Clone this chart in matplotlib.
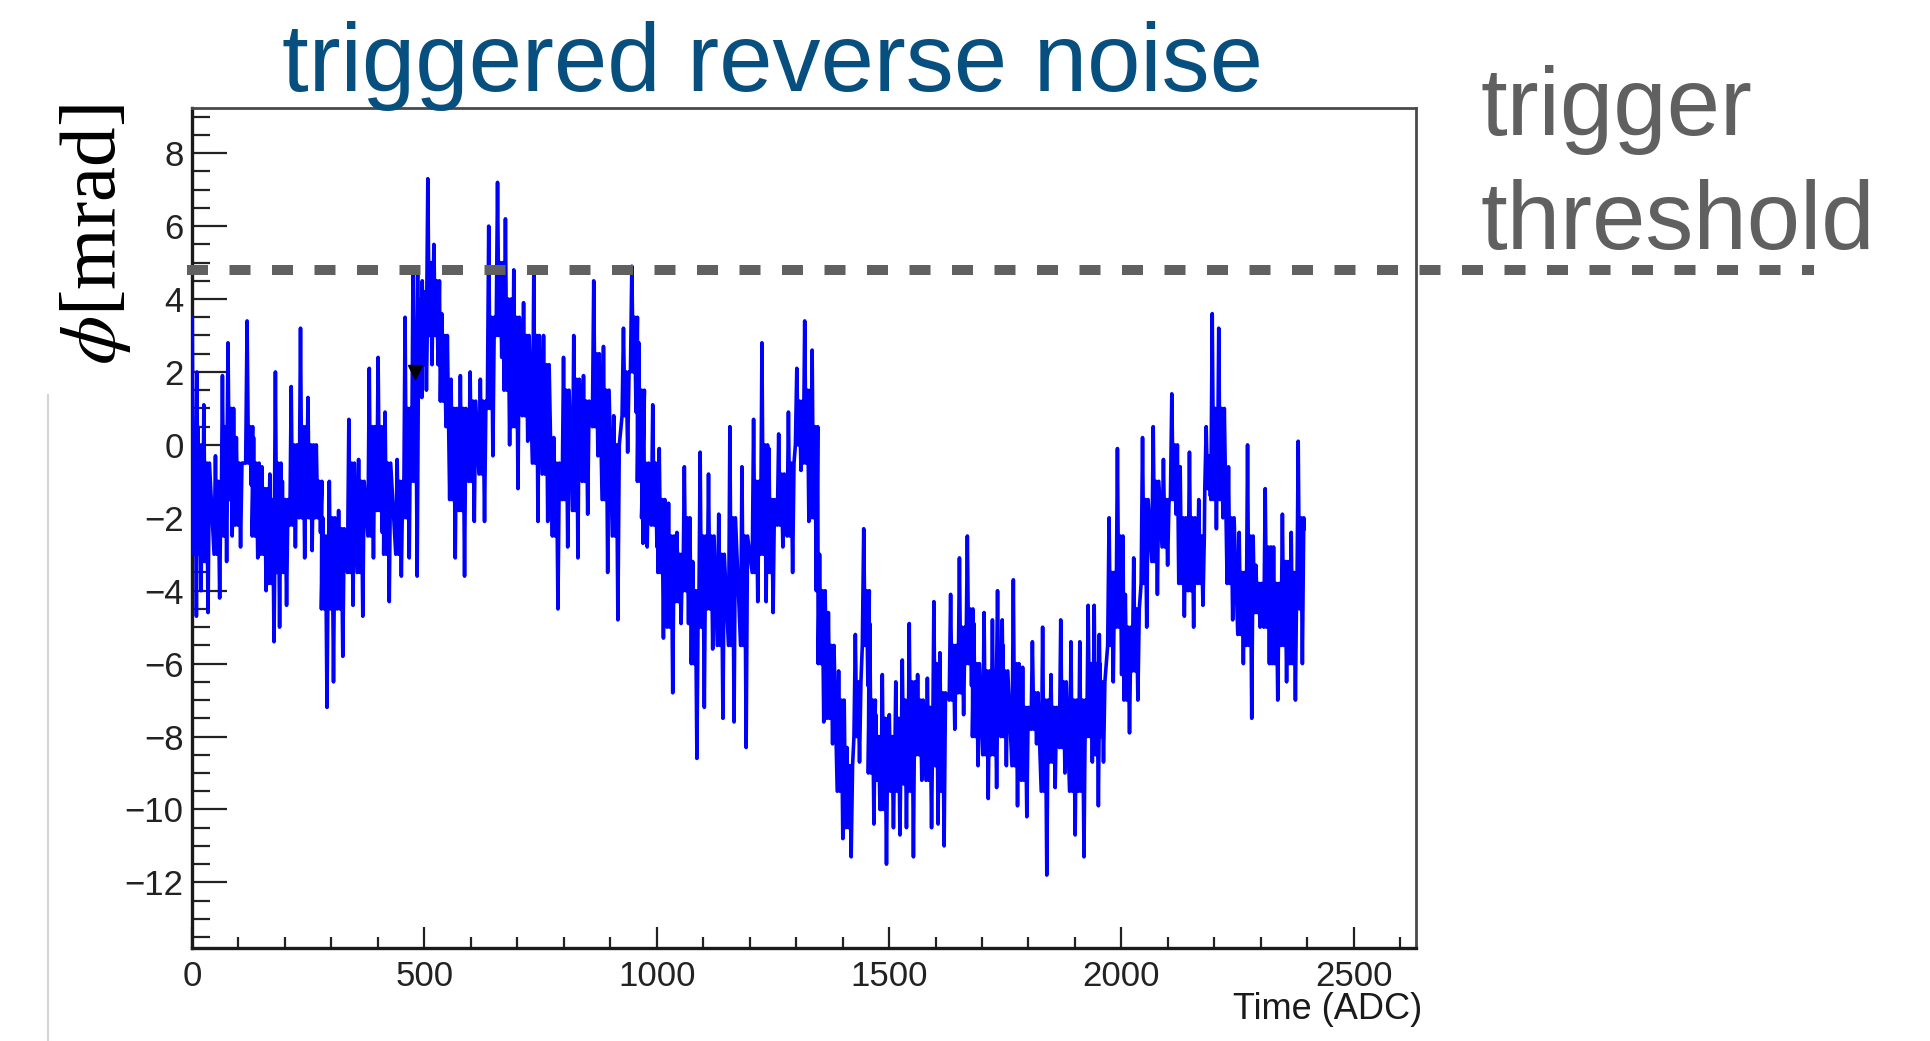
"""Triggered reverse noise: phase trace with the trigger threshold."""
import matplotlib

matplotlib.use("Agg")
import matplotlib.pyplot as plt
import numpy as np
from matplotlib.lines import Line2D
from matplotlib.ticker import MultipleLocator

plt.rcParams["font.family"] = ["Liberation Sans", "DejaVu Sans"]
plt.rcParams["mathtext.fontset"] = "stix"

# time bins (ADC); per bin: spike top / bottom and the dense core band, in mrad
time_adc = [
    5, 15, 30, 55, 70, 82, 100, 123, 137, 155, 172, 184, 199, 218, 238, 254,
    272, 286, 300, 320, 342, 363, 386, 405, 420, 446, 463, 480,
    490, 500, 512, 525, 542, 562, 582, 603, 625, 643, 662, 679, 697, 718,
    740, 761, 783, 804, 826, 847, 869, 890, 912, 933, 951, 966,
    975, 996, 1010, 1030, 1048, 1064, 1082, 1098, 1116, 1138, 1162, 1188,
    1213, 1231, 1246, 1267, 1288, 1306, 1323, 1339, 1355, 1374, 1396, 1414,
    1432, 1450,
    1463, 1476, 1490, 1505, 1519, 1533, 1548, 1566, 1587, 1601, 1614, 1637,
    1656, 1673, 1687, 1709, 1727, 1738, 1748, 1772, 1792, 1813, 1835, 1853,
    1874, 1896, 1915, 1933,
    1946, 1957, 1978, 1996, 2013, 2031, 2050, 2073, 2095, 2113, 2131, 2151,
    2171, 2187, 2200, 2214, 2235, 2258, 2276, 2294, 2314, 2332, 2351, 2370,
    2385,
]
phi_high = [
    3.5, 2.0, 1.1, -0.3, 1.9, 2.8, 0.2, 3.4, 0.2, -0.6, -0.8, 2.0, -1.0, 1.6,
    3.2, 1.3, 0.0, -2.0, -1.0, -1.8, 0.7, -0.4, 2.1, 2.4, 0.9, -0.4, 3.5, 4.7,
    4.8, 4.5, 7.3, 5.5, 3.6, 1.8, 1.9, 2.0, 1.8, 6.0, 7.2, 6.2, 4.8, 3.9,
    4.8, 3.0, 0.2, 2.4, 3.0, 1.9, 4.5, 2.7, 0.8, 3.2, 4.9, 2.8,
    0.7, 1.1, -0.1, -1.6, -2.4, -0.6, -3.2, -0.2, -0.8, -1.9, 0.5, -0.6,
    0.7, 2.8, -0.1, 0.3, 0.9, 2.1, 3.4, 2.6, -3.0, -4.6, -6.2, -8.3,
    -5.2, -2.3,
    -4.9, -7.4, -6.3, -7.4, -6.5, -5.9, -4.9, -6.3, -6.4, -4.3, -5.7, -4.1,
    -3.1, -2.5, -4.9, -4.6, -4.8, -4.0, -4.8, -3.7, -6.1, -5.4, -5.0, -6.3,
    -4.8, -5.4, -5.4, -4.4,
    -4.4, -5.2, -2.0, -0.1, -4.1, -3.1, 0.2, 0.5, -0.4, 1.4, -0.6, -0.2,
    -1.5, 0.5, 3.6, 3.2, -0.6, -2.4, 0.0, -3.3, -1.2, -2.8, -1.9, -2.4,
    0.1,
]
phi_low = [
    -4.7, -4.0, -4.6, -4.2, -3.2, -2.5, -2.8, -1.1, -3.1, -4.0, -5.4, -5.0,
    -4.4, -2.8, -3.1, -2.9, -2.4, -7.2, -6.5, -5.8, -4.4, -4.7, -3.1, -2.4,
    -4.3, -3.6, -3.1, -3.6,
    1.3, 1.5, 2.2, 2.2, 0.5, -3.1, -3.6, -2.1, -2.1, -0.3, 2.4, 0.0, -1.2, 0.1,
    -2.1, -2.1, -4.5, -2.8, -3.1, -1.9, -0.3, -3.5, -4.8, -0.2, 0.9, -2.7,
    -2.8, -2.8, -5.3, -6.8, -4.9, -4.9, -8.6, -7.2, -5.6, -7.5, -7.6, -8.3,
    -4.3, -4.3, -4.6, -2.8, -3.5, -0.7, -2.1, -4.0, -7.6, -8.2, -10.8, -11.3,
    -8.7, -6.6,
    -10.4, -10.0, -11.5, -10.5, -10.7, -10.5, -11.3, -9.2, -10.5, -10.4, -11.0,
    -7.8, -7.4, -6.6, -8.8, -9.7, -9.4, -7.9, -8.8, -9.9, -10.2, -8.2, -11.8,
    -9.4, -9.0, -10.7, -11.3, -8.7,
    -9.9, -8.7, -6.5, -6.3, -7.9, -7.0, -5.0, -4.1, -3.3, -1.9, -4.7, -5.0,
    -4.4, -1.4, -2.3, -2.0, -4.8, -6.0, -7.5, -5.0, -6.0, -7.0, -6.5, -7.0,
    -6.0,
]
core_high = [
    0.5, 0.0, -0.5, -1.0, 0.5, 1.0, -0.5, 0.5, -0.5, -1.2, -1.5, -0.5, -1.5,
    0.0, 0.5, 0.0, -1.0, -2.5, -2.0, -2.3, -0.5, -1.0, 0.5, 0.5, -0.5, -1.0,
    1.0, 2.5,
    4.0, 4.2, 5.0, 4.5, 3.0, 1.0, 1.0, 1.2, 1.2, 3.5, 5.0, 4.0, 3.5, 3.0,
    3.0, 2.2, -0.5, 1.5, 1.8, 1.2, 2.5, 1.5, 0.0, 2.0, 3.5, 1.5,
    -0.5, -0.5, -1.5, -2.5, -3.0, -2.0, -4.0, -2.5, -2.5, -3.0, -2.0, -2.5,
    -1.0, 0.0, -1.5, -0.8, -0.5, 1.2, 1.5, 0.5, -4.0, -5.5, -7.0, -8.8,
    -6.5, -4.0,
    -7.0, -8.0, -7.5, -8.0, -7.5, -7.0, -6.5, -7.0, -7.2, -6.0, -6.8, -5.5,
    -5.0, -4.5, -6.0, -6.2, -6.2, -5.5, -6.2, -6.0, -7.2, -6.8, -7.0, -7.2,
    -6.5, -7.0, -7.0, -6.0,
    -6.0, -6.5, -3.5, -2.5, -5.0, -4.5, -1.5, -1.0, -1.5, 0.0, -2.0, -2.0,
    -2.5, -0.3, 1.0, 1.0, -2.0, -3.5, -2.5, -3.8, -2.8, -3.8, -3.2, -3.5,
    -2.0,
]
core_low = [
    -3.0, -3.0, -3.2, -3.0, -2.5, -1.5, -2.2, -0.5, -2.5, -3.0, -3.8, -3.5,
    -3.5, -2.2, -2.0, -2.0, -2.0, -4.5, -4.5, -4.5, -3.5, -3.5, -2.5, -1.8,
    -3.0, -3.0, -2.0, -1.0,
    2.0, 2.2, 3.0, 3.0, 1.2, -1.5, -1.8, -1.0, -0.8, 1.0, 3.0, 1.5, 0.5, 0.8,
    -0.5, -0.8, -2.5, -1.5, -1.8, -1.0, 0.5, -1.5, -2.5, 0.8, 2.0, -1.0,
    -2.0, -2.2, -3.5, -5.0, -4.3, -4.0, -6.0, -5.0, -4.5, -5.5, -5.5, -5.5,
    -3.5, -3.0, -3.5, -2.2, -2.5, 0.0, -0.5, -2.0, -6.0, -7.5, -9.5, -10.5,
    -8.0, -5.5,
    -9.0, -9.2, -10.0, -9.5, -9.5, -9.3, -9.5, -8.5, -9.2, -8.8, -9.5, -7.0,
    -6.8, -6.0, -8.0, -8.5, -8.5, -7.3, -8.0, -8.8, -9.2, -7.8, -9.5, -8.7,
    -8.3, -9.5, -9.5, -8.0,
    -8.5, -8.0, -5.5, -5.0, -7.0, -6.2, -3.8, -3.2, -2.8, -1.5, -3.8, -4.0,
    -3.8, -1.2, -1.5, -1.5, -3.8, -5.2, -5.5, -4.6, -5.0, -6.0, -5.5, -6.0,
    -4.5,
]
last_time, last_phi = 2393, -2.3

threshold = 4.8
marker_time, marker_phi = 480, 2.0

x_ticks = [0, 500, 1000, 1500, 2000, 2500]
y_ticks = [-12, -10, -8, -6, -4, -2, 0, 2, 4, 6, 8]

W, H = 1931, 1041
fig = plt.figure(figsize=(W / 100, H / 100), dpi=100)
ax = fig.add_axes([192 / W, 1 - 948 / H, (1416 - 192) / W, (948 - 108) / H])

# each bin: spike up from the core, core stroke, spike down, back to the core
t = np.asarray(time_adc, dtype=float)
xs = np.column_stack([t - 7.5, t - 4.5, t - 1.5, t + 1.5, t + 4.5, t + 7.5]).ravel()
ys = np.column_stack([core_low, phi_high, core_low, core_high, phi_low,
                      core_high]).ravel()
xs = np.append(np.clip(xs, 0, None), last_time)
ys = np.append(ys, last_phi)
ax.plot(xs, ys, color="#0000ff", lw=2.6, zorder=3)

ax.plot([marker_time], [marker_phi], marker="v", color="black", ms=10,
        ls="none", zorder=4)

ax.set_xlim(0, 2634)
ax.set_ylim(-13.8, 9.24)

# threshold line runs past the frame, up to the annotation
ax.plot([-11, 3490], [threshold, threshold], color="#606060", lw=7.2,
        dashes=(2.1, 2.15), dash_capstyle="butt", clip_on=False, zorder=5)

ax.set_xticks(x_ticks)
ax.set_yticks(y_ticks)
ax.xaxis.set_minor_locator(MultipleLocator(100))
ax.yaxis.set_minor_locator(MultipleLocator(0.5))
ax.tick_params(axis="both", which="both", direction="in", colors="#222222",
               top=False, right=False)
ax.tick_params(axis="y", which="major", length=25, width=1.6, labelsize=25, pad=6)
ax.tick_params(axis="y", which="minor", length=13, width=1.6)
ax.tick_params(axis="x", which="major", length=15, width=1.6, labelsize=25, pad=9)
ax.tick_params(axis="x", which="minor", length=8, width=1.6)

for side in ("left", "bottom"):
    ax.spines[side].set_linewidth(2.4)
    ax.spines[side].set_color("#1a1a1a")
for side in ("top", "right"):
    ax.spines[side].set_linewidth(2.0)
    ax.spines[side].set_color("#4a4a4a")

fig.text(1422 / W, 1 - 1019 / H, "Time (ADC)", ha="right", va="baseline",
         fontsize=26, color="#1a1a1a")

fig.text(773 / W, 1 - 91 / H, "triggered reverse noise", ha="center",
         va="baseline", fontsize=69, color="#064f7e")
fig.text(1481 / W, 1 - 135 / H, "trigger", ha="left", va="baseline",
         fontsize=69, color="#606060")
fig.text(1481 / W, 1 - 249 / H, "threshold", ha="left", va="baseline",
         fontsize=69, color="#606060")

fig.text(115 / W, 1 - 234 / H, r"$\phi$[mrad]", rotation=90,
         rotation_mode="anchor", ha="center", va="baseline", fontsize=57,
         family=["Liberation Serif", "DejaVu Serif"], color="black")

fig.add_artist(Line2D([48 / W, 48 / W], [0, 1 - 395 / H], color="#d4d4d4",
                      lw=1.5, transform=fig.transFigure))

fig.savefig("out.png", dpi=100)
